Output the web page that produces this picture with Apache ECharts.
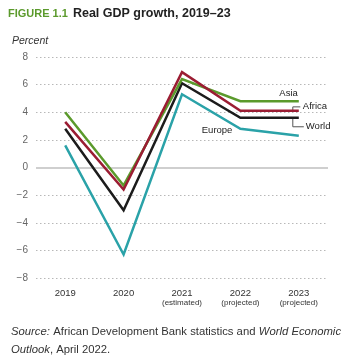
<!DOCTYPE html>
<html>
<head>
<meta charset="utf-8">
<script src="https://cdn.jsdelivr.net/npm/echarts@6/dist/echarts.min.js"></script>
<style>
  html, body { margin: 0; padding: 0; background: #fff; }
  #chart { width: 348px; height: 359px; }
</style>
</head>
<body>
<div id="chart"></div>
<script>
// Real GDP growth by region, percent
const years = ['2019', '2020', '2021', '2022', '2023'];
const yearNotes = ['', '', '(estimated)', '(projected)', '(projected)'];
const asia = [4.0, -1.3, 6.4, 4.8, 4.8];
const africa = [3.3, -1.6, 6.9, 4.1, 4.1];
const world = [2.8, -3.1, 6.1, 3.6, 3.6];
const europe = [1.6, -6.3, 5.3, 2.8, 2.3];
const yMin = -8, yMax = 8, yStep = 2;

const FONT = '"Liberation Sans", Arial, Helvetica, sans-serif';
const colors = { asia: '#5b9a2c', africa: '#9b1d33', world: '#1c1c1c', europe: '#2aa2a8' };

const chart = echarts.init(document.getElementById('chart'), null, { renderer: 'canvas' });

function lineSeries(name, data, color, z) {
  return {
    name, type: 'line', data, z,
    symbol: 'none',
    lineStyle: { color, width: 2.5, join: 'miter' },
    animation: false
  };
}

const series = [
  lineSeries('Europe', europe, colors.europe, 3),
  lineSeries('World', world, colors.world, 4),
  lineSeries('Asia', asia, colors.asia, 5),
  lineSeries('Africa', africa, colors.africa, 6)
];
// zero baseline
series[0].markLine = {
  silent: true, symbol: 'none', animation: false, z: 1,
  label: { show: false },
  lineStyle: { color: '#cfcfcf', width: 2, type: 'solid' },
  data: [{ yAxis: 0 }]
};

chart.setOption({
  animation: false,
  textStyle: { fontFamily: FONT },
  title: {
    left: 8, top: 5, padding: 0,
    text: '{a|FIGURE 1.1} {b|Real GDP growth, 2019–23}',
    textStyle: {
      rich: {
        a: { fontFamily: FONT, fontSize: 11, fontWeight: 'bold', color: '#5b9a2c' },
        b: { fontFamily: FONT, fontSize: 12.5, fontWeight: 'bold', color: '#222' }
      }
    }
  },
  grid: { left: 36, right: 20, top: 57, bottom: 81, containLabel: false },
  xAxis: {
    type: 'category',
    data: years,
    boundaryGap: true,
    axisLine: { show: false },
    axisTick: { show: false },
    axisLabel: {
      margin: 10,
      interval: 0,
      formatter: (v, i) => yearNotes[i] ? '{y|' + v + '}\n{n|' + yearNotes[i] + '}' : '{y|' + v + '}',
      rich: {
        y: { fontFamily: FONT, fontSize: 9.5, color: '#333', lineHeight: 10 },
        n: { fontFamily: FONT, fontSize: 8, color: '#333', lineHeight: 9 }
      },
      verticalAlign: 'top'
    },
    splitLine: { show: false }
  },
  yAxis: {
    type: 'value',
    min: yMin, max: yMax, interval: yStep,
    name: 'Percent',
    nameLocation: 'end',
    nameGap: 10,
    nameTextStyle: { fontFamily: FONT, fontSize: 10.5, fontStyle: 'italic', color: '#333', align: 'left', padding: [0, 0, 0, -24] },
    axisLine: { show: false },
    axisTick: { show: false },
    axisLabel: {
      margin: 8, fontFamily: FONT, fontSize: 10, color: '#666',
      formatter: v => (v < 0 ? '\u2212' + Math.abs(v) : String(v))
    },
    splitLine: { show: true, lineStyle: { color: '#b8b8b8', width: 1, type: [1.5, 2.5] } }
  },
  series
});

// Series labels and leader lines placed from the data points
const lastIdx = years.length - 1;
const px = (arr, i) => chart.convertToPixel({ gridIndex: 0 }, [years[i], arr[i]]);
const pAsia = px(asia, lastIdx);
const pAfrica = px(africa, lastIdx);
const pWorld = px(world, lastIdx);
const pEurope = px(europe, 3);

const labelStyle = { fontFamily: FONT, fontSize: 9.5, fill: '#222' };
const leader = { stroke: '#555', lineWidth: 1, fill: null };

chart.setOption({
  graphic: [
    { type: 'text', x: pAsia[0] - 1, y: pAsia[1] - 8,
      style: Object.assign({ text: 'Asia', align: 'right', verticalAlign: 'middle' }, labelStyle) },
    { type: 'polyline', shape: { points: [[pAfrica[0] - 6, pAfrica[1]], [pAfrica[0] - 6, pAfrica[1] - 4], [pAfrica[0] + 1.5, pAfrica[1] - 4]] }, style: leader },
    { type: 'text', x: pAfrica[0] + 4, y: pAfrica[1] - 4.5,
      style: Object.assign({ text: 'Africa', align: 'left', verticalAlign: 'middle' }, labelStyle) },
    { type: 'polyline', shape: { points: [[pWorld[0] - 6, pWorld[1]], [pWorld[0] - 6, pWorld[1] + 9], [pWorld[0] + 5, pWorld[1] + 9]] }, style: leader },
    { type: 'text', x: pWorld[0] + 7, y: pWorld[1] + 9,
      style: Object.assign({ text: 'World', align: 'left', verticalAlign: 'middle' }, labelStyle) },
    { type: 'text', x: pEurope[0] - 8, y: pEurope[1] + 2,
      style: Object.assign({ text: 'Europe', align: 'right', verticalAlign: 'middle' }, labelStyle) },
    { type: 'text', x: 11, y: 323,
      style: {
        text: '{i|Source:} {r|African Development Bank statistics and} {i|World Economic}\n{i|Outlook}{r|, April 2022.}',
        rich: {
          i: { fontFamily: FONT, fontSize: 11.3, fontStyle: 'italic', fill: '#333', lineHeight: 18 },
          r: { fontFamily: FONT, fontSize: 11.3, fill: '#333', lineHeight: 18 }
        }
      } }
  ]
});
</script>
</body>
</html>
